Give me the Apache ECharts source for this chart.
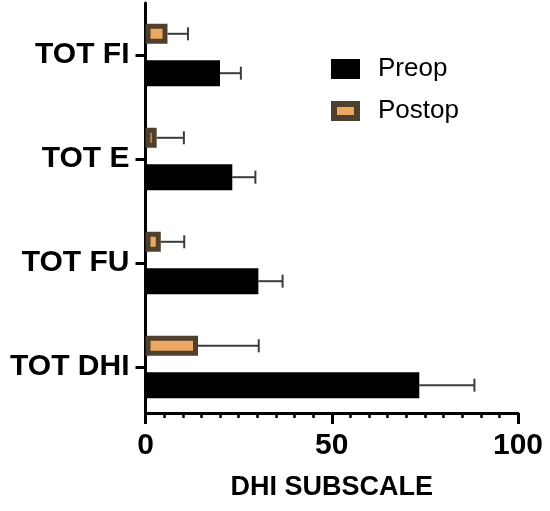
<!DOCTYPE html>
<html>
<head>
<meta charset="utf-8">
<script src="https://cdn.jsdelivr.net/npm/echarts@6/dist/echarts.min.js"></script>
<style>
  html, body { margin: 0; padding: 0; background: #fff; }
  #chart { width: 550px; height: 511px; }
</style>
</head>
<body>
<div id="chart"></div>
<script>
// categories top to bottom
var categories = ['TOT FI', 'TOT E', 'TOT FU', 'TOT DHI']
var preopMean = [20.0, 23.3, 30.3, 73.5]
var preopUpper = [25.6, 29.5, 36.8, 88.3]
var postopMean = [5.9, 3.0, 4.1, 14.1]
var postopUpper = [11.4, 10.3, 10.4, 30.4]
var xTicks = [0, 50, 100]

var font = 'Liberation Sans, Arial, sans-serif'
var postW = 20
var preW = 26
var gapPct = 0.82
// bar centers relative to category center (same rule ECharts uses for bar layout)
var sumW = postW * (1 + gapPct) + preW
var postOff = -sumW / 2 + postW / 2
var preOff = -sumW / 2 + postW * (1 + gapPct) + preW / 2

function errData(mean, upper) {
  return mean.map(function(m, i) { return [i, m, upper[i]] })
}

function errRender(offset) {
  return function(params, api) {
    var cat = api.value(0)
    var p0 = api.coord([api.value(1), cat])
    var p1 = api.coord([api.value(2), cat])
    var y = p0[1] + offset
    var style = { stroke: '#3c3c3c', lineWidth: 2 }
    return {
      type: 'group',
      children: [
        { type: 'line', shape: { x1: p0[0], y1: y, x2: p1[0], y2: y }, style: style },
        { type: 'line', shape: { x1: p1[0], y1: y - 6.5, x2: p1[0], y2: y + 6.5 }, style: style }
      ]
    }
  }
}

var chart = echarts.init(document.getElementById('chart'))
var option = {
  backgroundColor: '#fff',
  animation: false,
  textStyle: { fontFamily: font },
  grid: { left: 145.5, right: 32, top: 3, height: 416 },
  legend: {
    orient: 'vertical',
    left: 326,
    top: 51,
    icon: 'rect',
    itemWidth: 23,
    itemHeight: 14,
    itemGap: 16,
    data: [
      { name: 'Preop', itemStyle: { borderColor: '#000', borderWidth: 6 } },
      { name: 'Postop', itemStyle: { borderColor: '#4f3f2d', borderWidth: 6 } }
    ],
    textStyle: { fontSize: 26, color: '#000', fontFamily: font, padding: [0, 0, 0, 16] }
  },
  xAxis: {
    type: 'value',
    min: xTicks[0],
    max: xTicks[xTicks.length - 1],
    interval: 50,
    offset: -6,
    name: 'DHI SUBSCALE',
    nameLocation: 'middle',
    nameGap: 61,
    nameTextStyle: { fontSize: 27, fontWeight: 'bold', color: '#000', fontFamily: font },
    axisLine: { show: true, lineStyle: { color: '#000', width: 3 } },
    axisTick: { show: true, length: 11, lineStyle: { color: '#000', width: 3 } },
    minorTick: { show: true, splitNumber: 10, length: 5, lineStyle: { color: '#000', width: 2.5 } },
    axisLabel: { fontSize: 30, fontWeight: 'bold', color: '#000', margin: 18, fontFamily: font },
    splitLine: { show: false }
  },
  yAxis: {
    type: 'category',
    inverse: true,
    data: categories,
    axisLine: { show: true, lineStyle: { color: '#000', width: 3 } },
    axisTick: { show: true, alignWithLabel: true, length: 10, lineStyle: { color: '#000', width: 3 } },
    axisLabel: { fontSize: 30, fontWeight: 'bold', color: '#000', margin: 16, fontFamily: font },
    splitLine: { show: false }
  },
  series: [
    {
      name: 'Postop',
      type: 'bar',
      data: postopMean,
      barWidth: postW,
      barGap: (gapPct * 100) + '%',
      z: 3,
      itemStyle: { color: '#eba862', borderColor: '#4f3f2d', borderWidth: 5 }
    },
    {
      name: 'Preop',
      type: 'bar',
      data: preopMean,
      barWidth: preW,
      z: 3,
      itemStyle: { color: '#000' }
    },
    {
      type: 'custom',
      name: 'postErr',
      data: errData(postopMean, postopUpper),
      encode: { x: [1, 2], y: 0 },
      renderItem: errRender(postOff),
      z: 2
    },
    {
      type: 'custom',
      name: 'preErr',
      data: errData(preopMean, preopUpper),
      encode: { x: [1, 2], y: 0 },
      renderItem: errRender(preOff),
      z: 2
    }
  ]
}
chart.setOption(option)
</script>
</body>
</html>
